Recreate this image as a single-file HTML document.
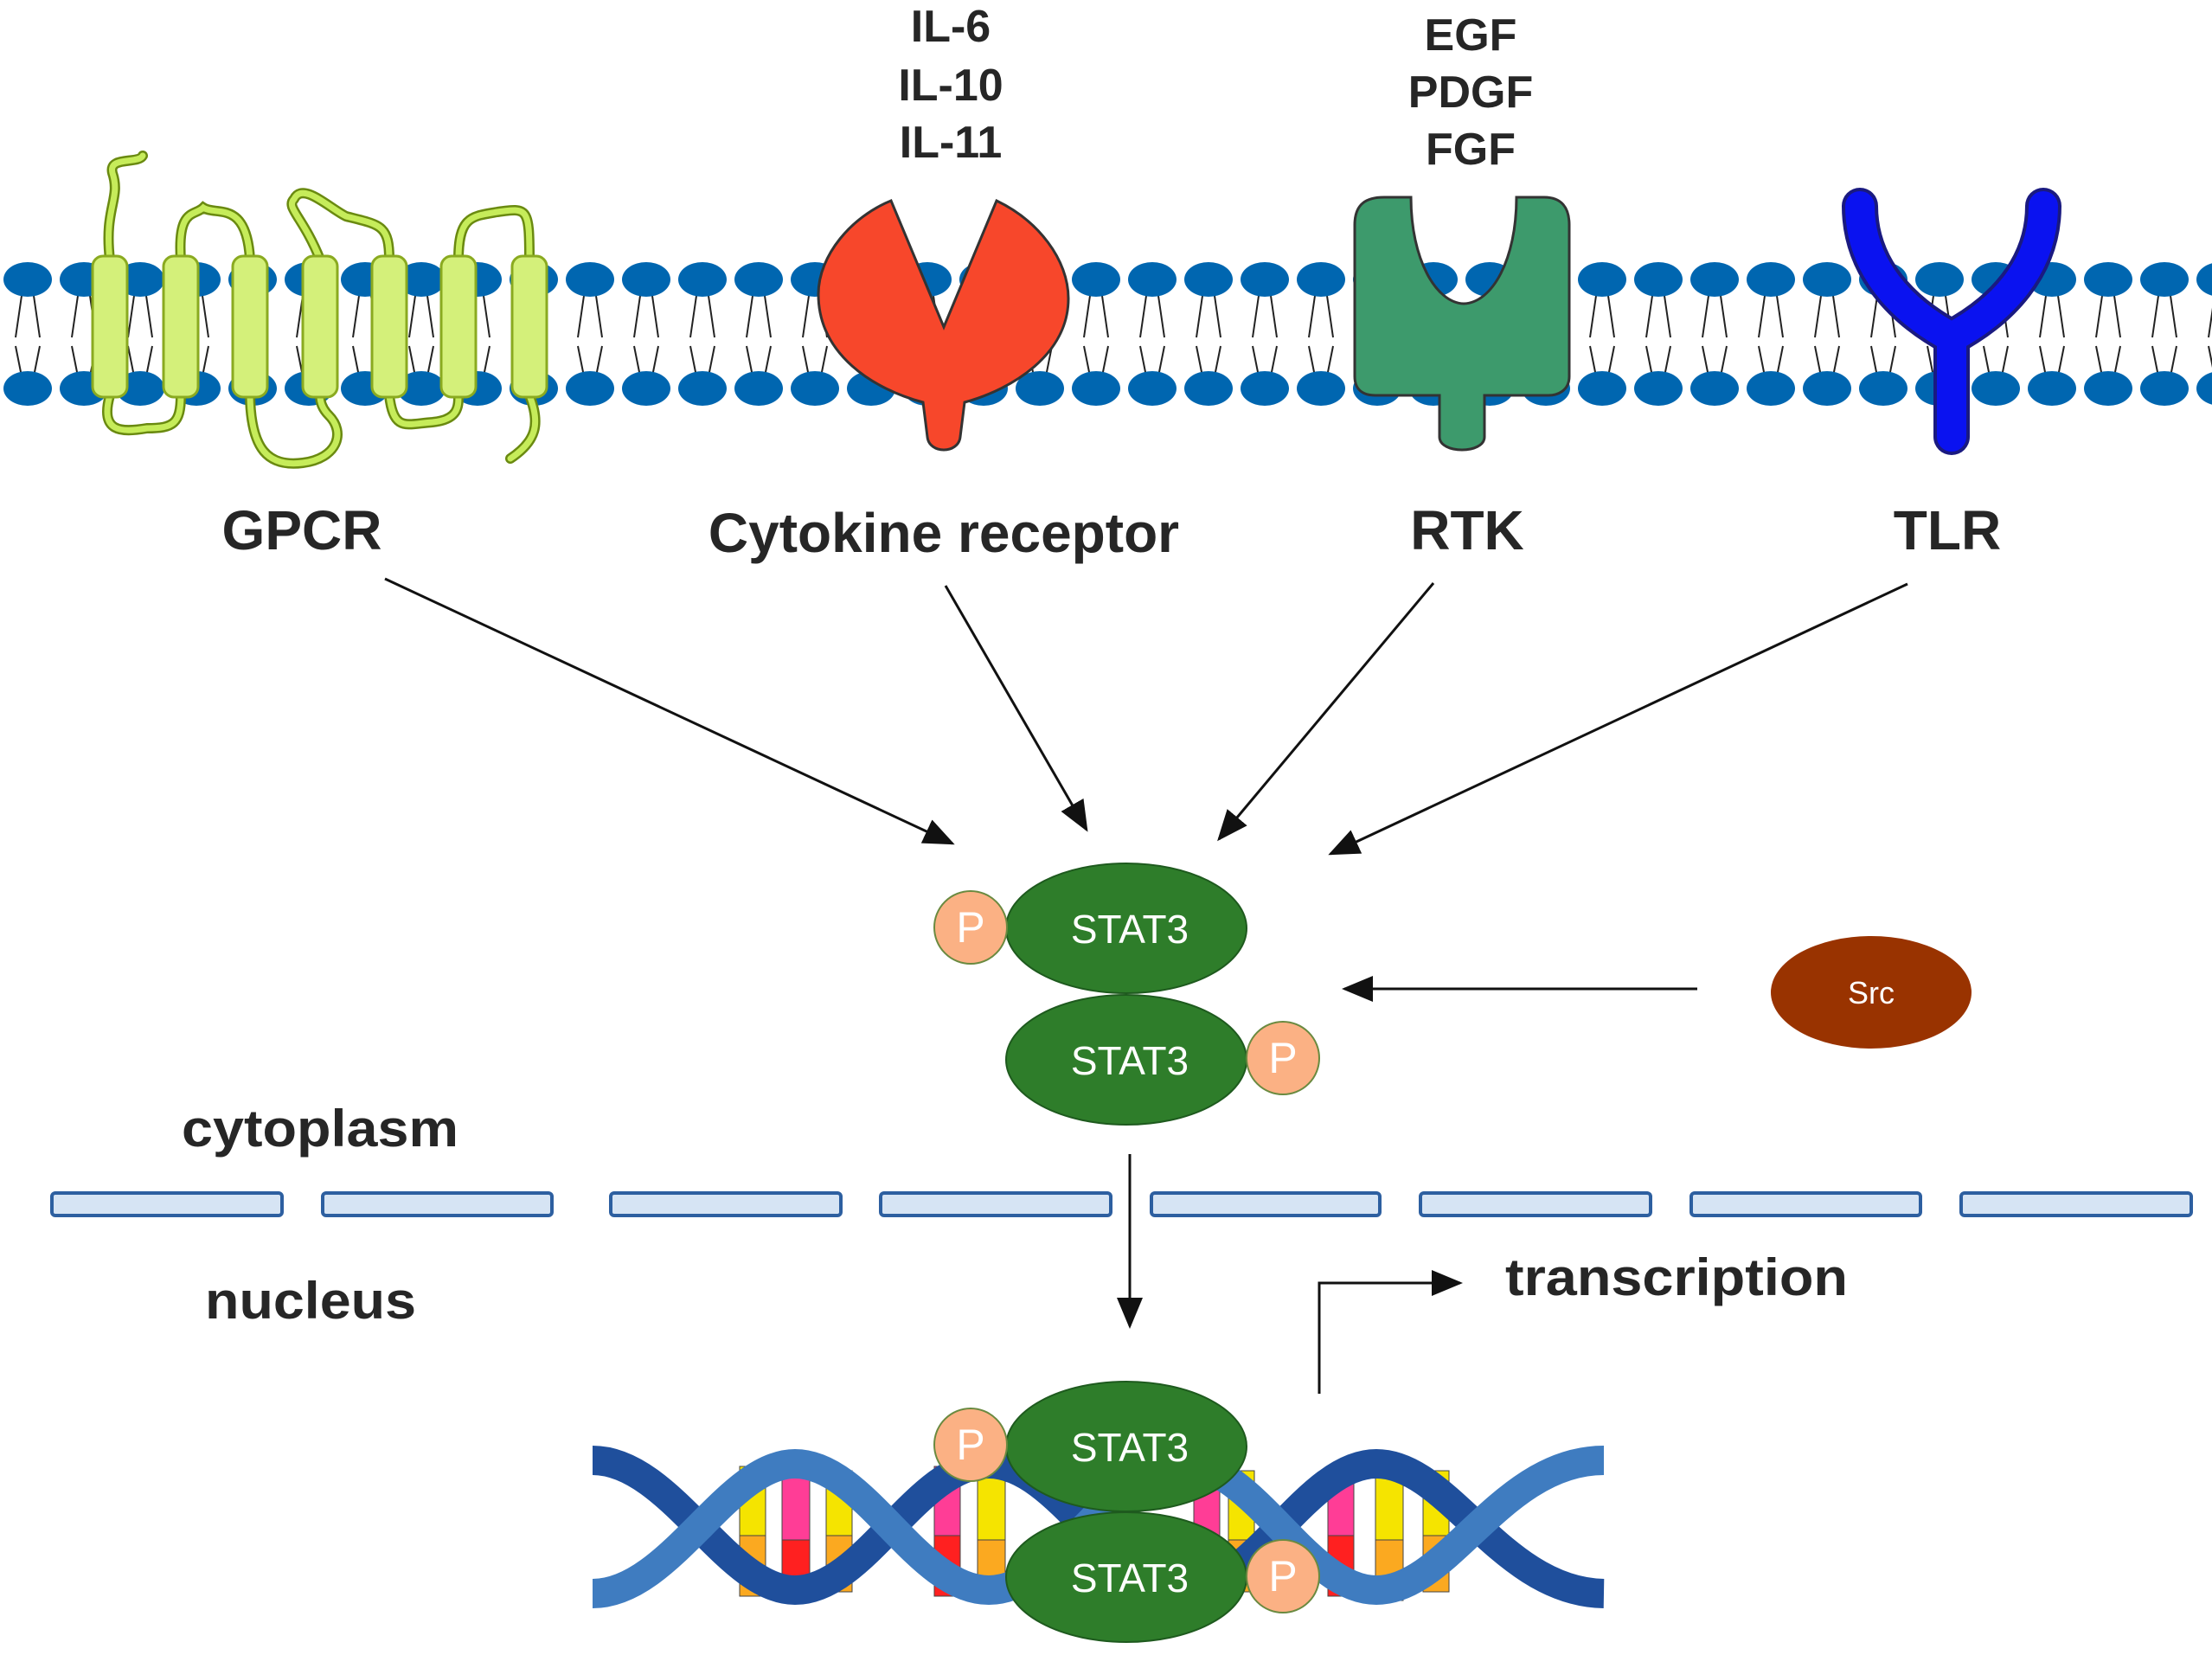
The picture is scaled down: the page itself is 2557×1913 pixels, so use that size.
<!DOCTYPE html>
<html><head><meta charset="utf-8"><style>
html,body{margin:0;padding:0;background:#fff;}
svg{display:block;}
.lb{font-family:"Liberation Sans",sans-serif;font-weight:bold;fill:#262626;}
.st{font-family:"Liberation Sans",sans-serif;fill:#fff;}
</style></head><body>
<svg width="2557" height="1913" viewBox="0 0 2557 1913" xmlns="http://www.w3.org/2000/svg">
<defs>
<pattern id="mem" x="0" y="0" width="65" height="1913" patternUnits="userSpaceOnUse">
  <path d="M26 335 L18 390 M38 335 L46 390 M18 400 L26 440 M46 400 L38 440" stroke="#222" stroke-width="2" fill="none"/>
  <ellipse cx="32" cy="323" rx="28" ry="20" fill="#0066b0"/>
  <ellipse cx="32" cy="449" rx="28" ry="20" fill="#0066b0"/>
</pattern>
<marker id="ah" markerWidth="12" markerHeight="10" refX="11" refY="5" orient="auto" markerUnits="strokeWidth">
  <path d="M0,0 L12,5 L0,10 z" fill="#111"/>
</marker>
</defs>
<rect x="0" y="290" width="2557" height="190" fill="url(#mem)"/>

<!-- GPCR loops -->
<g fill="none" stroke="#6a8a10" stroke-width="12" stroke-linecap="round">
<path d="M127 300 C120 240 140 230 130 200 C125 180 160 190 165 180 M209 300 C205 240 225 250 235 240 C250 250 285 230 289 300 M370 300 C350 250 330 240 340 230 C350 210 380 240 400 250 C440 260 450 260 450 300 M530 300 C530 250 545 250 575 245 C610 240 612 240 612 300 M127 457 C115 500 140 500 170 495 C200 495 209 490 209 457 M289 457 C290 520 310 540 350 535 C390 530 400 500 380 480 C370 470 370 460 370 457 M450 457 C455 500 470 490 500 488 C530 485 530 470 530 457 M612 457 C625 490 620 510 590 530"/>
</g>
<g fill="none" stroke="#c6ec5a" stroke-width="7" stroke-linecap="round">
<path d="M127 300 C120 240 140 230 130 200 C125 180 160 190 165 180 M209 300 C205 240 225 250 235 240 C250 250 285 230 289 300 M370 300 C350 250 330 240 340 230 C350 210 380 240 400 250 C440 260 450 260 450 300 M530 300 C530 250 545 250 575 245 C610 240 612 240 612 300 M127 457 C115 500 140 500 170 495 C200 495 209 490 209 457 M289 457 C290 520 310 540 350 535 C390 530 400 500 380 480 C370 470 370 460 370 457 M450 457 C455 500 470 490 500 488 C530 485 530 470 530 457 M612 457 C625 490 620 510 590 530"/>
</g>
<g fill="#d4f07a" stroke="#8aaa20" stroke-width="3">
<rect x="107" y="296" width="40" height="163" rx="12"/>
<rect x="189" y="296" width="40" height="163" rx="12"/>
<rect x="269" y="296" width="40" height="163" rx="12"/>
<rect x="350" y="296" width="40" height="163" rx="12"/>
<rect x="430" y="296" width="40" height="163" rx="12"/>
<rect x="510" y="296" width="40" height="163" rx="12"/>
<rect x="592" y="296" width="40" height="163" rx="12"/>
</g>

<!-- Cytokine receptor -->
<path d="M1030 232 L1091 378 L1152 232 C1200 255 1235 300 1235 345 C1235 410 1170 450 1115 465 L1110 505 C1108 525 1074 525 1072 505 L1067 465 C1010 450 946 410 946 340 C946 295 985 250 1030 232 Z" fill="#f7472b" stroke="#333" stroke-width="3"/>
<!-- RTK -->
<path d="M1566 260 C1566 235 1580 228 1600 228 L1631 228 C1631 300 1660 350 1692 351 C1725 350 1753 300 1753 228 L1785 228 C1805 228 1814 240 1814 260 L1814 435 C1814 452 1800 457 1790 457 L1716 457 L1716 505 C1716 525 1664 525 1664 505 L1664 457 L1590 457 C1575 457 1566 450 1566 435 Z" fill="#3d9a6c" stroke="#333" stroke-width="3"/>
<!-- TLR -->
<path d="M2150 238 C2150 310 2200 360 2256 390 C2312 360 2362 310 2362 238 M2256 390 L2256 505" fill="none" stroke="#1a1a80" stroke-width="42" stroke-linejoin="round" stroke-linecap="round"/>
<path d="M2150 238 C2150 310 2200 360 2256 390 C2312 360 2362 310 2362 238 M2256 390 L2256 505" fill="none" stroke="#0a12f0" stroke-width="34" stroke-linejoin="round" stroke-linecap="round"/>

<!-- labels top -->
<g class="lb" font-size="52" text-anchor="middle">
<text x="1099" y="48">IL-6</text>
<text x="1099" y="116">IL-10</text>
<text x="1099" y="182">IL-11</text>
<text x="1700" y="58">EGF</text>
<text x="1700" y="124">PDGF</text>
<text x="1700" y="190">FGF</text>
</g>
<g class="lb" font-size="64" text-anchor="middle">
<text x="349" y="635">GPCR</text>
<text x="1091" y="638">Cytokine receptor</text>
<text x="1696" y="635">RTK</text>
<text x="2251" y="635">TLR</text>
</g>

<!-- arrows -->
<g stroke="#111" stroke-width="3" fill="none" marker-end="url(#ah)">
<line x1="445" y1="669" x2="1101" y2="975"/>
<line x1="1093" y1="677" x2="1256" y2="959"/>
<line x1="1657" y1="674" x2="1409" y2="970"/>
<line x1="2205" y1="675" x2="1538" y2="987"/>
<line x1="1962" y1="1143" x2="1554" y2="1143"/>
<line x1="1306" y1="1334" x2="1306" y2="1533"/>
<polyline points="1525,1611 1525,1483 1688,1483"/>
</g>

<!-- STAT3 dimer -->
<g stroke="#1e5a1e" stroke-width="2">
<ellipse cx="1302" cy="1073" rx="139" ry="75" fill="#2e7d2a"/>
<ellipse cx="1302" cy="1225" rx="139" ry="75" fill="#2e7d2a"/>
<circle cx="1122" cy="1072" r="42" fill="#fbb184" stroke="#6a8a40"/>
<circle cx="1483" cy="1223" r="42" fill="#fbb184" stroke="#6a8a40"/>
</g>
<g class="st" font-size="46" text-anchor="middle">
<text x="1306" y="1090">STAT3</text>
<text x="1306" y="1242">STAT3</text>
<text x="1122" y="1089" font-size="50">P</text>
<text x="1483" y="1240" font-size="50">P</text>
</g>

<!-- Src -->
<ellipse cx="2163" cy="1147" rx="116" ry="65" fill="#993300"/>
<text class="st" x="2163" y="1160" font-size="36" text-anchor="middle">Src</text>

<g class="lb" font-size="60">
<text x="210" y="1325" textLength="320" lengthAdjust="spacingAndGlyphs">cytoplasm</text>
<text x="237" y="1524" textLength="244" lengthAdjust="spacingAndGlyphs">nucleus</text>
<text x="1740" y="1497" textLength="396" lengthAdjust="spacingAndGlyphs">transcription</text>
</g>

<!-- nuclear envelope -->
<g fill="#d6e4f4" stroke="#2d5fa0" stroke-width="4">
<rect x="60" y="1379" width="266" height="26" rx="4"/>
<rect x="373" y="1379" width="265" height="26" rx="4"/>
<rect x="706" y="1379" width="266" height="26" rx="4"/>
<rect x="1018" y="1379" width="266" height="26" rx="4"/>
<rect x="1331" y="1379" width="264" height="26" rx="4"/>
<rect x="1642" y="1379" width="266" height="26" rx="4"/>
<rect x="1955" y="1379" width="265" height="26" rx="4"/>
<rect x="2267" y="1379" width="266" height="26" rx="4"/>
</g>

<!-- DNA -->
<g stroke="#444" stroke-width="1">
<rect x="855" y="1695" width="30" height="80" fill="#f5e400"/><rect x="855" y="1775" width="30" height="70" fill="#fba920"/>
<rect x="904" y="1690" width="32" height="90" fill="#ff3d96"/><rect x="904" y="1780" width="32" height="70" fill="#ff2020"/>
<rect x="955" y="1700" width="30" height="75" fill="#f5e400"/><rect x="955" y="1775" width="30" height="65" fill="#fba920"/>
<rect x="1080" y="1695" width="30" height="80" fill="#ff3d96"/><rect x="1080" y="1775" width="30" height="70" fill="#ff2020"/>
<rect x="1130" y="1690" width="32" height="90" fill="#f5e400"/><rect x="1130" y="1780" width="32" height="70" fill="#fba920"/>
<rect x="1380" y="1700" width="30" height="75" fill="#ff3d96"/><rect x="1380" y="1775" width="30" height="65" fill="#ff2020"/>
<rect x="1420" y="1700" width="30" height="80" fill="#f5e400"/><rect x="1420" y="1780" width="30" height="60" fill="#fba920"/>
<rect x="1535" y="1695" width="30" height="80" fill="#ff3d96"/><rect x="1535" y="1775" width="30" height="70" fill="#ff2020"/>
<rect x="1590" y="1690" width="32" height="90" fill="#f5e400"/><rect x="1590" y="1780" width="32" height="70" fill="#fba920"/>
<rect x="1645" y="1700" width="30" height="75" fill="#f5e400"/><rect x="1645" y="1775" width="30" height="65" fill="#fba920"/>
</g>
<g fill="none" stroke-width="34">
<path d="M685 1688 C775 1688 840 1838 919 1838 C1000 1838 1060 1692 1143 1692 C1225 1692 1285 1838 1367 1838 C1450 1838 1510 1692 1591 1692 C1675 1692 1735 1840 1854 1842" stroke="#1f4f9c"/>
<path d="M685 1842 C775 1842 840 1692 919 1692 C1000 1692 1060 1838 1143 1838 C1225 1838 1285 1692 1367 1692 C1450 1692 1510 1838 1591 1838 C1675 1838 1735 1688 1854 1688" stroke="#3f7cc0"/>
</g>

<g stroke="#1e5a1e" stroke-width="2">
<ellipse cx="1302" cy="1672" rx="139" ry="75" fill="#2e7d2a"/>
<ellipse cx="1302" cy="1823" rx="139" ry="75" fill="#2e7d2a"/>
<circle cx="1122" cy="1670" r="42" fill="#fbb184" stroke="#6a8a40"/>
<circle cx="1483" cy="1822" r="42" fill="#fbb184" stroke="#6a8a40"/>
</g>
<g class="st" font-size="46" text-anchor="middle">
<text x="1306" y="1689">STAT3</text>
<text x="1306" y="1840">STAT3</text>
<text x="1122" y="1687" font-size="50">P</text>
<text x="1483" y="1839" font-size="50">P</text>
</g>
</svg>
</body></html>
